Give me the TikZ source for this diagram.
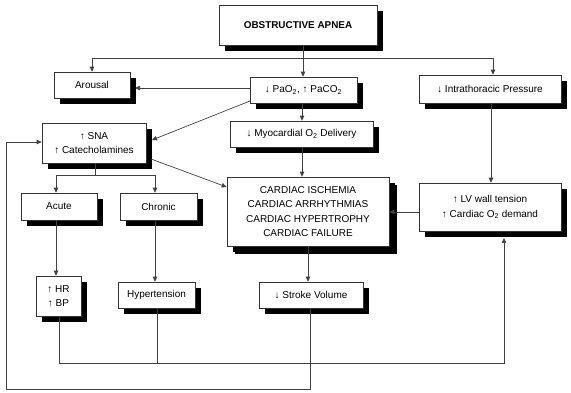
\documentclass[tikz,border=0pt]{standalone}
\usepackage{fontspec}
\setmainfont{Liberation Sans}
\usetikzlibrary{arrows.meta}
\tikzset{
  box/.style={draw=black!80, line width=0.6pt, fill=white, align=center,
    inner sep=0pt, font=\fontsize{10}{14.3}\selectfont,
    preaction={draw=none, fill=black, transform canvas={xshift=6pt, yshift=-6pt}}},
  bigshadow/.style={preaction={draw=none, fill=black, transform canvas={xshift=8pt, yshift=-8pt}}},
  link/.style={draw=black!75, line width=0.7pt},
  arr/.style={link, -{Triangle[length=5pt,width=4.5pt]}}
}
\begin{document}
\begin{tikzpicture}[x=1pt,y=-1pt]
\useasboundingbox (0,0) rectangle (571,393);

% boxes
\node[box, minimum width=158pt, minimum height=40pt, font=\fontsize{9.9}{12}\selectfont\bfseries] (title) at (298,25) {OBSTRUCTIVE APNEA};
\node[box, minimum width=76pt, minimum height=26pt] (arousal) at (92,85) {Arousal};
\node[box, minimum width=104pt, minimum height=40pt] (sna) at (94,143) {↑ SNA\\↑ Catecholamines};
\node[box, minimum width=107pt, minimum height=26pt] (pao) at (303.5,90) {↓ PaO\textsubscript{2}, ↑ PaCO\textsubscript{2}};
\node[box, minimum width=143pt, minimum height=26pt] (myo) at (301.5,134) {↓ Myocardial O\textsubscript{2} Delivery};
\node[box, minimum width=142pt, minimum height=28pt] (intra) at (490,89) {↓ Intrathoracic Pressure};
\node[box, minimum width=76pt, minimum height=27pt] (acute) at (59,206.5) {Acute};
\node[box, minimum width=77pt, minimum height=27pt] (chronic) at (158.5,206.5) {Chronic};
\node[box, minimum width=45pt, minimum height=40pt] (hrbp) at (58.5,296) {↑ HR\\↑ BP};
\node[box, minimum width=77pt, minimum height=26pt] (hyper) at (156.5,295) {Hypertension};
\node[box, bigshadow, minimum width=162pt, minimum height=69pt] (cardiac) at (308,211.5)
  {CARDIAC ISCHEMIA\\CARDIAC ARRHYTHMIAS\\CARDIAC HYPERTROPHY\\CARDIAC FAILURE};
\node[box, minimum width=142pt, minimum height=48pt] (lv) at (490,207) {↑ LV wall tension\\↑ Cardiac O\textsubscript{2} demand};
\node[box, minimum width=104pt, minimum height=26pt] (stroke) at (311,295) {↓ Stroke Volume};

% distribution from the top box
\coordinate (split) at (303,58);
\coordinate (toright) at (493,58);
\draw[link] (title.south -| split) -- (split);
\draw[arr] (split -| arousal.north) -- (toright) -- (intra.north -| toright);
\draw[arr] (split) -- (pao.north -| split);
\draw[arr] (split -| arousal.north) -- (arousal.north);

% from blood gases
\draw[arr] (pao.west |- 0,88) -- (135,88);
\draw[arr] (250,101) -- (152,140);
\draw[arr] (pao.south -| 302,0) -- (myo.north -| 302,0);
\draw[arr] (myo.south -| 302,0) -- (cardiac.north -| 302,0);

% sympathetic branch
\draw[arr] (151,159) -- (cardiac.west |- 0,187);
\coordinate (branch) at (95,175);
\draw[link] (sna.south -| branch) -- (branch);
\draw[arr] (branch) -- (branch -| 56,0) -- (acute.north -| 56,0);
\draw[arr] (branch) -- (branch -| 155,0) -- (chronic.north -| 155,0);
\draw[arr] (acute.south -| 56,0) -- (hrbp.north -| 56,0);
\draw[arr] (chronic.south -| 155,0) -- (hyper.north -| 155,0);

% intrathoracic pressure path
\draw[arr] (intra.south -| 491,0) -- (lv.north -| 491,0);
\draw[arr] (lv.west |- 0,212) -- (cardiac.east |- 0,212);
\draw[arr] (cardiac.south -| 308,0) -- (stroke.north -| 308,0);

% feedback loops
\coordinate (loopA) at (504,363);
\draw[arr] (hrbp.south -| 59,0) -- (59,363) -- (loopA) -- (504,238);
\draw[link] (hyper.south -| 157,0) -- (157,363);
\coordinate (loopB) at (6,389);
\draw[arr] (stroke.south -| 310,0) -- (310,389) -- (loopB) -- (6,142) -- (sna.west |- 0,142);
\end{tikzpicture}
\end{document}
